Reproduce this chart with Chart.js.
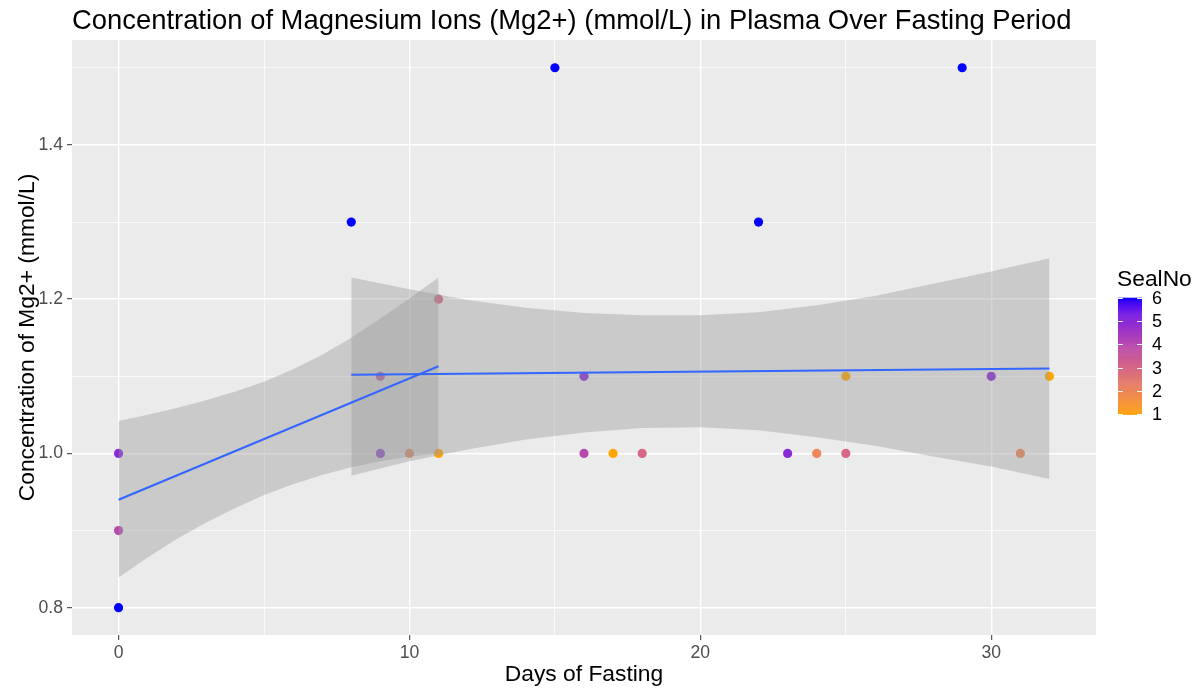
<!DOCTYPE html>
<html>
<head>
<meta charset="utf-8">
<script src="https://cdn.jsdelivr.net/npm/chart.js@4/dist/chart.umd.min.js"></script>
<style>
  html, body { margin: 0; padding: 0; background: #ffffff; }
  #wrap { width: 1201px; height: 688px; }
</style>
</head>
<body>
<div id="wrap"><canvas id="c" width="1201" height="688"></canvas></div>
<script>
// ---------------- data ----------------
const days   = [0, 0, 0, 8, 9, 9, 10, 11, 11, 15, 16, 16, 17, 18, 22, 23, 24, 25, 25, 29, 30, 31, 32];
const mg     = [1.0, 0.9, 0.8, 1.3, 1.1, 1.0, 1.0, 1.2, 1.0, 1.5, 1.1, 1.0, 1.0, 1.0, 1.3, 1.0, 1.0, 1.1, 1.0, 1.5, 1.1, 1.0, 1.1];
const sealNo = [5, 4, 6, 6, 4, 5, 2, 3, 1, 6, 5, 4, 1, 3, 6, 5, 2, 1, 3, 6, 5, 2, 1];

// fitted lines (lm smooth) for the two groups
const fitLeftX  = [0, 11];
const fitLeftY  = [0.940, 1.113];
const fitRightX = [8, 32];
const fitRightY = [1.102, 1.110];

// confidence ribbons
const ribLeftX     = [0, 1, 2, 3, 4, 5, 6, 7, 8, 9, 10, 11];
const ribLeftUpper = [1.042, 1.050, 1.059, 1.069, 1.080, 1.093, 1.109, 1.128, 1.150, 1.175, 1.201, 1.228];
const ribLeftLower = [0.839, 0.865, 0.889, 0.910, 0.929, 0.946, 0.960, 0.972, 0.982, 0.990, 0.996, 1.000];

const ribRightX     = [8, 10, 12, 14, 16, 18, 20, 22, 24, 26, 28, 30, 32];
const ribRightUpper = [1.228, 1.213, 1.199, 1.189, 1.182, 1.179, 1.179, 1.183, 1.192, 1.204, 1.220, 1.236, 1.253];
const ribRightLower = [0.971, 0.990, 1.005, 1.018, 1.027, 1.033, 1.034, 1.030, 1.021, 1.010, 0.996, 0.983, 0.967];

// axis ticks
const xTicks = [0, 5, 10, 15, 20, 25, 30];
const xMajor = [0, 10, 20, 30];
const yTicks = [0.8, 0.9, 1.0, 1.1, 1.2, 1.3, 1.4, 1.5];
const yMajor = [0.8, 1.0, 1.2, 1.4];
const legendTicks = [1, 2, 3, 4, 5, 6];

// ---------------- colour scale (orange -> blue, Lab interpolation) ----------------
const LOW = '#FFA500', HIGH = '#0000FF';
const SEAL_MIN = 1, SEAL_MAX = 6;
function hexToRgb(h){ return [1,3,5].map(i => parseInt(h.substr(i,2),16)); }
function srgbToLin(c){ c/=255; return c <= 0.04045 ? c/12.92 : Math.pow((c+0.055)/1.055, 2.4); }
function linToSrgb(c){ c = c <= 0.0031308 ? 12.92*c : 1.055*Math.pow(c,1/2.4)-0.055; return Math.max(0,Math.min(255,Math.round(c*255))); }
function rgbToLab(rgb){
  const [r,g,b] = rgb.map(srgbToLin);
  let X = (0.4124*r + 0.3576*g + 0.1805*b)/0.95047;
  let Y = (0.2126*r + 0.7152*g + 0.0722*b);
  let Z = (0.0193*r + 0.1192*g + 0.9505*b)/1.08883;
  const f = t => t > 0.008856 ? Math.cbrt(t) : 7.787*t + 16/116;
  const fx=f(X), fy=f(Y), fz=f(Z);
  return [116*fy-16, 500*(fx-fy), 200*(fy-fz)];
}
function labToRgb(lab){
  const [L,a,b] = lab;
  const fy=(L+16)/116, fx=fy+a/500, fz=fy-b/200;
  const fi = t => t*t*t > 0.008856 ? t*t*t : (t-16/116)/7.787;
  const X=0.95047*fi(fx), Y=fi(fy), Z=1.08883*fi(fz);
  const r= 3.2406*X-1.5372*Y-0.4986*Z;
  const g=-0.9689*X+1.8758*Y+0.0415*Z;
  const bb=0.0557*X-0.2040*Y+1.0570*Z;
  return [linToSrgb(r), linToSrgb(g), linToSrgb(bb)];
}
const labLow = rgbToLab(hexToRgb(LOW)), labHigh = rgbToLab(hexToRgb(HIGH));
function sealColour(v){
  const t = (v - SEAL_MIN)/(SEAL_MAX - SEAL_MIN);
  const lab = labLow.map((c,i) => c + t*(labHigh[i]-c));
  const [r,g,b] = labToRgb(lab);
  return `rgb(${r},${g},${b})`;
}

// ---------------- styles ----------------
const FONT = '"Liberation Sans", Arial, Helvetica, sans-serif';
const PANEL_BG = '#EBEBEB';
const RIBBON = 'rgba(153,153,153,0.4)';
const LINE = '#3366FF';

const pts = days.map((d,i) => ({x: d, y: mg[i]}));
const toXY = (xs, ys) => xs.map((x,i) => ({x, y: ys[i]}));

const panelBg = {
  id: 'panelBg',
  beforeDraw(chart){
    const {ctx, chartArea:a} = chart;
    ctx.save();
    ctx.fillStyle = PANEL_BG;
    ctx.fillRect(a.left, a.top, a.right-a.left, a.bottom-a.top);
    ctx.restore();
  }
};

const colourBar = {
  id: 'colourBar',
  afterDraw(chart){
    const ctx = chart.ctx;
    const x0 = 1118, w = 24, yTop = 297.7, yBot = 414.3;
    ctx.save();
    const n = 120;
    for (let i = 0; i < n; i++){
      const v = SEAL_MIN + (SEAL_MAX-SEAL_MIN)*(i+0.5)/n;
      const y1 = yBot - (yBot-yTop)*i/n, y2 = yBot - (yBot-yTop)*(i+1)/n;
      ctx.fillStyle = sealColour(v);
      ctx.fillRect(x0, y2, w, (y1-y2)+0.6);
    }
    ctx.strokeStyle = '#ffffff';
    ctx.lineWidth = 1;
    ctx.fillStyle = '#000000';
    ctx.font = '18px ' + FONT;
    ctx.textBaseline = 'middle';
    ctx.textAlign = 'left';
    legendTicks.forEach(t => {
      const y = yBot - (yBot-yTop)*(t-SEAL_MIN)/(SEAL_MAX-SEAL_MIN);
      const yy = Math.round(y)+0.5;
      ctx.beginPath();
      ctx.moveTo(x0, yy); ctx.lineTo(x0+4.8, yy);
      ctx.moveTo(x0+w-4.8, yy); ctx.lineTo(x0+w, yy);
      ctx.stroke();
      ctx.fillText(String(t), 1152, y+1);
    });
    ctx.font = '22.8px ' + FONT;
    ctx.textBaseline = 'alphabetic';
    ctx.fillText('SealNo', 1117, 286);
    ctx.restore();
  }
};

const isMajorX = v => xMajor.includes(v);
const isMajorY = v => yMajor.some(m => Math.abs(m-v) < 1e-6);

new Chart(document.getElementById('c'), {
  type: 'scatter',
  data: {
    datasets: [
      { type:'line', data: toXY(ribLeftX, ribLeftUpper), fill: '+1', backgroundColor: RIBBON,
        borderWidth: 0, pointRadius: 0, tension: 0, order: 2 },
      { type:'line', data: toXY(ribLeftX, ribLeftLower), fill: false,
        borderWidth: 0, pointRadius: 0, tension: 0, order: 2 },
      { type:'line', data: toXY(ribRightX, ribRightUpper), fill: '+1', backgroundColor: RIBBON,
        borderWidth: 0, pointRadius: 0, tension: 0, order: 2 },
      { type:'line', data: toXY(ribRightX, ribRightLower), fill: false,
        borderWidth: 0, pointRadius: 0, tension: 0, order: 2 },
      { type:'line', data: toXY(fitLeftX, fitLeftY), borderColor: LINE, borderWidth: 2,
        pointRadius: 0, fill: false, order: 1 },
      { type:'line', data: toXY(fitRightX, fitRightY), borderColor: LINE, borderWidth: 2,
        pointRadius: 0, fill: false, order: 1 },
      { type:'scatter', data: pts, pointRadius: 4.6, pointHoverRadius: 4.6, borderWidth: 0,
        pointBackgroundColor: sealNo.map(sealColour), pointBorderColor: sealNo.map(sealColour), order: 3 }
    ]
  },
  options: {
    responsive: false,
    animation: false,
    devicePixelRatio: 1,
    layout: { padding: { left: 0, right: 105, top: 0, bottom: 0 } },
    plugins: {
      legend: { display: false },
      tooltip: { enabled: false },
      title: {
        display: true,
        text: 'Concentration of Magnesium Ions (Mg2+) (mmol/L) in Plasma Over Fasting Period',
        align: 'start',
        fullSize: false,
        color: '#000000',
        font: { family: FONT, size: 27.4, weight: 'normal', lineHeight: 1.2 },
        padding: { top: 5, bottom: 2.12 }
      }
    },
    scales: {
      x: {
        type: 'linear', min: -1.6, max: 33.6,
        afterBuildTicks: s => { s.ticks = xTicks.map(v => ({value: v})); },
        afterFit: s => { s.height = 53; },
        border: { display: false },
        grid: {
          color: c => '#ffffff',
          lineWidth: c => (c.tick && isMajorX(c.tick.value)) ? 1.4 : 0.7,
          drawTicks: true, tickLength: 5, tickWidth: 1,
          tickColor: c => (c.tick && isMajorX(c.tick.value)) ? '#333333' : 'rgba(0,0,0,0)'
        },
        ticks: {
          color: '#4D4D4D', padding: 3, maxRotation: 0, autoSkip: false,
          font: { family: FONT, size: 17.6 },
          callback: v => isMajorX(v) ? String(v) : ''
        },
        title: {
          display: true, text: 'Days of Fasting', color: '#000000',
          font: { family: FONT, size: 22.8, lineHeight: 1.2 },
          padding: { top: 0, bottom: 0 }
        }
      },
      y: {
        type: 'linear', min: 0.7646, max: 1.536,
        afterBuildTicks: s => { s.ticks = yTicks.map(v => ({value: v})); },
        afterFit: s => { s.width = 72; },
        border: { display: false },
        grid: {
          color: c => '#ffffff',
          lineWidth: c => (c.tick && isMajorY(c.tick.value)) ? 1.4 : 0.7,
          drawTicks: true, tickLength: 5, tickWidth: 1,
          tickColor: c => (c.tick && isMajorY(c.tick.value)) ? '#333333' : 'rgba(0,0,0,0)'
        },
        ticks: {
          color: '#4D4D4D', padding: 4, autoSkip: false,
          font: { family: FONT, size: 17.6 },
          callback: v => isMajorY(v) ? v.toFixed(1) : ''
        },
        title: {
          display: true, text: 'Concentration of Mg2+ (mmol/L)', color: '#000000',
          font: { family: FONT, size: 22.8, lineHeight: 1.2 },
          padding: { top: 14, bottom: 0 }
        }
      }
    }
  },
  plugins: [panelBg, colourBar]
});
</script>
</body>
</html>
